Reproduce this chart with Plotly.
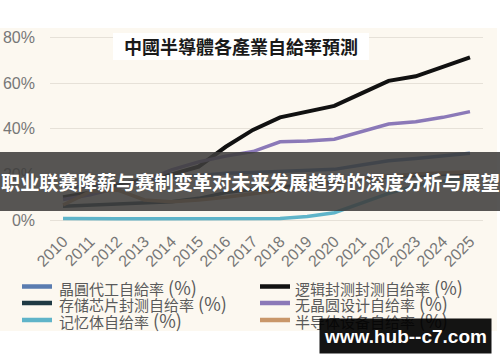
import plotly.graph_objects as go

W, H = 500, 362

years = list(range(2010, 2026))
foundry = [14, 15, 16, 17, 18.5, 19.5, 20.5, 20.8, 21.2, 21.9, 22.2, 24.1, 26, 27, 28, 29.3]
storage_pkg = [6, 6.5, 7, 7.5, 8, 9.5, 12, 13.5, 14.5, 15.5, 16.5, 18, 19, 19.5, 20, 20.5]
memory = [0.7, 0.8, 0.6, 0.5, 0.5, 0.6, 0.6, 0.7, 0.7, 1.5, 3.2, 7.4, 11.7, 15, 17, 19]
logic_pkg = [10, 12, 15, 18, 20, 23.4, 32.1, 39.5, 45, 47.5, 50, 55.5, 61, 63, 67.2, 71.3]
fabless = [9, 11, 14, 17, 22, 25.5, 28, 30, 34.3, 34.6, 35.4, 38.7, 42.1, 43.1, 45, 47.5]
equipment = [6.6, 12.4, 13.2, 8.8, 8, 8.8, 10, 11.4, 13, 15, 16.2, 18, 19.3, 20.2, 20.6, 21.2]

y_ticks = [0, 20, 40, 60, 80]
y_tick_labels = ["0%", "20%", "40%", "60%", "80%"]

title_text = "中國半導體各產業自給率預測"
banner_text = "职业联赛降薪与赛制变革对未来发展趋势的深度分析与展望"
watermark_text = "www.hub--c7.com"

series = [
    ("晶圓代工自給率", foundry, "#5a7cb0", 3.5),
    ("存储芯片封测自给率", storage_pkg, "#1f3a44", 3.5),
    ("记忆体自给率", memory, "#5fb4c9", 3.5),
    ("逻辑封测封测自给率", logic_pkg, "#111111", 4),
    ("无晶圆设计自给率", fabless, "#8b79b8", 3.5),
    ("半导体设备自给率", equipment, "#c9976a", 3.5),
]

def px(x):
    return x / W

def py(y):
    return 1 - y / H

fig = go.Figure()
for name, vals, color, w in series:
    fig.add_trace(go.Scatter(x=years, y=vals, mode="lines", name=name,
                             line=dict(color=color, width=w), showlegend=False,
                             hoverinfo="skip"))

shapes = []
shapes.append(dict(type="rect", xref="paper", yref="paper", x0=0, x1=1, y0=py(28), y1=1,
                   fillcolor="white", line=dict(width=0), layer="below"))
shapes.append(dict(type="rect", xref="paper", yref="paper", x0=0, x1=1, y0=0, y1=py(331),
                   fillcolor="white", line=dict(width=0), layer="below"))
shapes.append(dict(type="rect", xref="paper", yref="paper", x0=px(497), x1=1, y0=0, y1=1,
                   fillcolor="white", line=dict(width=0), layer="below"))
# title box
shapes.append(dict(type="rect", xref="paper", yref="paper", x0=px(113), x1=px(369), y0=py(60), y1=py(33),
                   fillcolor="white", line=dict(width=0), layer="above"))
# banner
shapes.append(dict(type="rect", xref="paper", yref="paper", x0=0, x1=1, y0=py(211), y1=py(152),
                   fillcolor="rgba(62,61,60,0.87)", line=dict(width=0), layer="above"))

annotations = []
annotations.append(dict(x=px(241), y=py(46.5), xref="paper", yref="paper", text="<b>" + title_text + "</b>",
                        showarrow=False, xanchor="center", yanchor="middle",
                        font=dict(family="Noto Sans CJK TC", size=18, color="#1a1a1a")))

leg_font = dict(family="Noto Sans CJK SC", size=15, color="#5a5a5a")
rows = [286.5, 303, 320]
cols = [(22, 52, 57), (260, 290, 293)]
for i, (name, vals, color, w) in enumerate(series):
    c = i // 3
    r = i % 3
    lx0, lx1, tx = cols[c]
    yy = rows[r]
    shapes.append(dict(type="line", xref="paper", yref="paper", x0=px(lx0), x1=px(lx1),
                       y0=py(yy), y1=py(yy), line=dict(color=color, width=4.5), layer="above"))
    annotations.append(dict(x=px(tx), y=py(yy), xref="paper", yref="paper",
                            text=name + '<span style="font-size:18px"> (%)</span>',
                            showarrow=False, xanchor="left", yanchor="middle", font=leg_font))

annotations.append(dict(x=0.5, y=py(182), xref="paper", yref="paper", text="<b>" + banner_text + "</b>",
                        showarrow=False, xanchor="center", yanchor="middle",
                        font=dict(family="Noto Sans CJK SC", size=19.2, color="white")))

annotations.append(dict(x=px(405.5), y=py(336), xref="paper", yref="paper", text="<b>" + watermark_text + "</b>",
                        showarrow=False, xanchor="center", yanchor="middle",
                        font=dict(family="Liberation Sans", size=19, color="white"),
                        bgcolor="rgba(0,0,0,0.92)", width=171, height=34, borderpad=0))

fig.update_layout(
    width=W, height=H,
    margin=dict(l=0, r=0, t=0, b=0),
    paper_bgcolor="#fcf8f0",
    plot_bgcolor="rgba(0,0,0,0)",
    shapes=shapes,
    annotations=annotations,
    hovermode=False,
    xaxis=dict(domain=[px(50), px(483)], range=[2009.52, 2025.48],
               tickmode="array", tickvals=years, ticktext=[str(y) for y in years],
               tickangle=-45, showgrid=False, zeroline=False, showline=False,
               tickfont=dict(family="Liberation Sans", size=16, color="#777777"),
               ticklabelstandoff=4, automargin=False, fixedrange=True),
    yaxis=dict(domain=[py(224), py(30)], range=[-1.75, 83.29],
               tickmode="array", tickvals=y_ticks, ticktext=y_tick_labels,
               showgrid=True, gridcolor="#e6e1d8", gridwidth=1, zeroline=False, showline=False,
               tickfont=dict(family="Liberation Sans", size=16, color="#777777"),
               ticklabelstandoff=14, automargin=False, fixedrange=True),
)

fig.write_html("out.html", config={"displayModeBar": False},
               post_script="document.body.style.margin='0';document.body.style.padding='0';")
